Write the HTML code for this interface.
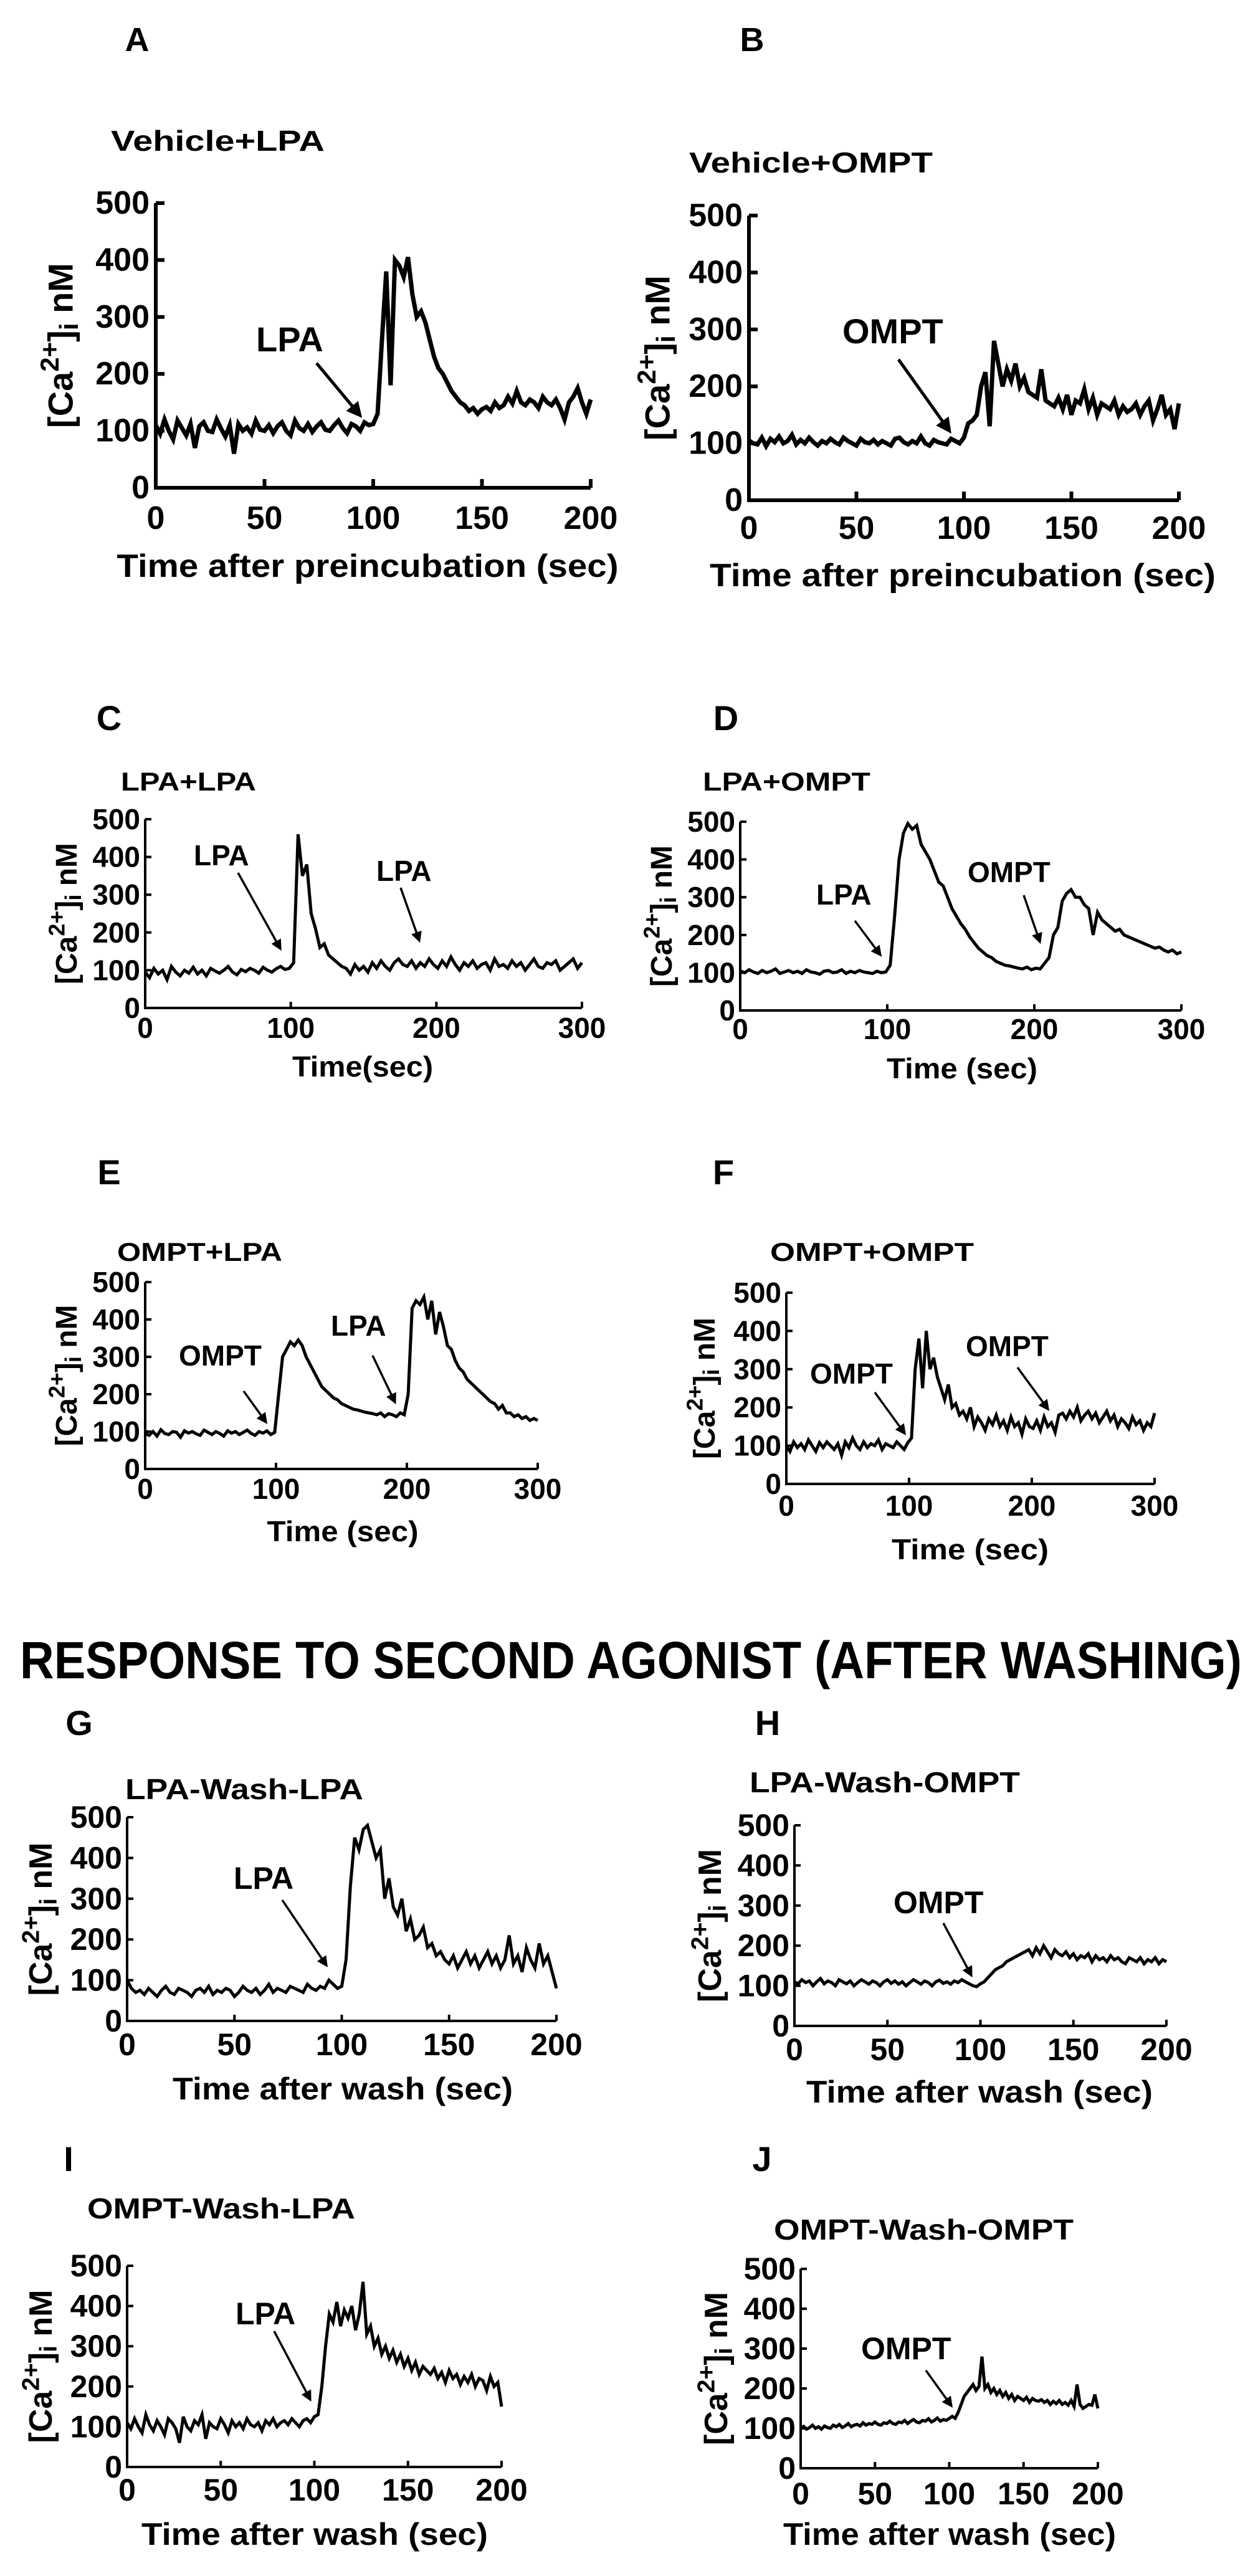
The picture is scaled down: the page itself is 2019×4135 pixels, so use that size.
<!DOCTYPE html>
<html><head><meta charset="utf-8"><style>
html,body{margin:0;padding:0;background:#fff;}
svg{display:block;}
text{font-family:"Liberation Sans",Arial,sans-serif;font-weight:bold;fill:#000;}
</style></head><body>
<svg id="fig" width="2019" height="4135" viewBox="0 0 2019 4135" xmlns="http://www.w3.org/2000/svg">
<defs><marker id="ah" viewBox="0 0 10 10" refX="8" refY="5" markerWidth="5.5" markerHeight="5" orient="auto"><path d="M0,0 L10,5 L0,10 z" fill="#000"/></marker></defs>
<text x="32" y="2694" font-size="84" textLength="1961" lengthAdjust="spacingAndGlyphs">RESPONSE TO SECOND AGONIST (AFTER WASHING)</text>
</svg>
<script>
// Panel data: values sampled every `step` seconds
const aVals=[110,95,120,100,85,118,105,92,112,70,108,115,100,98,120,104,90,110,60,112,100,106,95,118,102,100,110,96,108,115,100,92,118,105,100,112,98,108,115,102,100,110,118,105,96,112,108,100,115,110,112,
130,260,380,180,400,390,370,405,340,300,310,290,260,230,210,200,185,170,160,150,145,135,140,130,138,142,135,150,140,145,160,148,170,150,145,155,150,140,160,150,145,155,140,120,150,160,175,150,130,155];
const bVals=[105,100,98,110,95,108,102,112,100,104,115,98,106,100,110,102,96,104,100,108,102,98,110,104,100,96,108,102,100,106,98,104,100,96,108,110,102,98,104,100,112,100,96,106,102,100,98,108,104,100,110,
135,140,150,200,225,130,280,240,200,230,210,240,200,215,190,185,180,230,175,170,165,180,160,185,150,175,170,195,160,180,150,170,165,160,175,150,165,155,160,170,150,165,175,140,160,185,150,160,125,170];
const cVals=[95,80,105,90,100,75,110,95,85,100,92,108,90,100,85,105,98,92,100,110,95,88,102,96,105,100,92,108,100,95,104,110,102,105,
120,460,350,380,250,210,160,170,140,130,120,110,105,90,115,100,110,95,120,105,125,110,100,120,130,115,110,125,105,120,110,130,115,105,125,110,135,115,100,120,110,125,105,115,120,100,130,110,115,105,125,110,120,100,115,130,110,105,120,115,125,100,110,120,130,105,120];
const dVals=[105,100,108,102,98,106,100,104,110,98,102,106,100,104,98,108,102,100,96,104,106,100,102,108,98,104,100,106,102,100,98,104,100,102,
120,250,400,470,495,480,490,440,420,400,370,340,330,300,270,250,230,215,195,180,165,155,145,140,130,125,120,118,115,112,110,115,108,112,110,125,140,200,220,290,310,320,300,300,280,270,200,260,240,230,220,210,215,200,195,190,185,180,175,170,165,168,160,155,160,150,155];
const eVals=[95,90,100,88,105,95,92,100,98,85,102,96,100,94,90,104,98,92,100,95,88,102,96,100,92,98,104,95,90,100,96,102,92,98,
200,300,320,340,330,345,330,300,280,260,240,220,210,200,190,185,175,170,165,160,158,155,152,150,148,145,150,140,148,145,140,150,145,200,430,450,440,460,400,450,360,420,380,330,320,290,270,260,240,230,220,210,200,190,180,175,160,170,150,150,140,145,135,140,130,135,130];
const fVals=[100,85,110,95,105,90,115,100,85,108,95,110,100,90,105,75,110,95,120,100,90,110,95,105,100,115,90,105,100,95,110,100,90,108,
120,300,380,250,400,300,330,280,250,220,260,200,210,180,190,170,200,150,175,160,140,170,155,180,150,165,140,175,150,160,130,170,150,145,165,140,175,150,160,135,180,185,170,190,175,200,165,180,190,170,185,160,175,190,165,180,150,170,160,145,175,155,165,140,160,150,185];
const gVals=[100,80,70,75,65,80,70,60,75,85,70,65,80,75,70,60,75,80,70,85,65,75,70,80,75,60,70,85,75,70,80,65,75,90,70,80,75,70,85,80,75,70,90,80,75,85,80,100,90,80,85,
150,330,450,420,470,480,440,400,420,300,350,280,260,300,220,250,200,210,230,180,190,160,170,150,140,160,130,150,170,140,160,130,150,170,140,160,130,150,210,140,160,120,180,150,130,190,140,160,120,80];
const hVals=[110,105,115,108,112,100,110,118,105,112,108,100,115,110,105,112,100,108,115,110,104,112,108,100,110,115,106,112,104,110,100,108,115,110,104,112,108,100,110,114,106,110,104,112,108,115,110,105,100,98,105,
110,120,130,140,145,150,160,165,170,175,180,185,190,175,195,180,200,185,170,190,180,175,185,170,180,165,175,170,180,160,175,165,170,160,175,165,170,160,155,170,165,160,170,155,165,160,170,155,165,160];
const iVals=[110,95,120,100,85,130,105,90,115,100,80,120,110,95,60,125,100,90,115,105,130,70,110,100,95,120,105,85,115,100,110,95,120,105,100,110,90,115,105,120,100,110,115,105,120,110,100,115,120,110,125,
130,200,300,380,360,410,350,390,370,400,340,380,460,330,350,300,320,280,300,270,290,260,280,250,270,240,260,230,250,240,230,245,220,235,210,240,220,230,205,225,210,230,200,220,215,190,225,200,210,150];
const jVals=[100,105,98,102,108,100,104,98,106,102,100,108,104,110,102,106,112,104,108,110,106,114,108,112,110,116,110,108,114,112,118,112,110,116,114,120,112,118,122,116,114,120,118,124,116,120,126,118,122,120,125,
130,125,140,160,180,190,200,210,195,205,280,200,210,190,200,185,195,180,190,175,185,170,180,175,170,178,165,175,170,168,172,165,170,160,168,162,170,160,165,158,170,155,210,160,150,155,160,158,185,150];
const yTicks=[0,100,200,300,400,500];
const xTicks200=[0,50,100,150,200];
const xTicks300=[0,100,200,300];

const NS="http://www.w3.org/2000/svg";
const svg=document.getElementById('fig');
function mk(tag,attrs,parent){const e=document.createElementNS(NS,tag);for(const k in attrs)e.setAttribute(k,attrs[k]);(parent||svg).appendChild(e);return e;}

function panel(p){
  const g=mk('g',{});
  
  
  const sx=v=>p.x0+v/p.xmax*(p.x1-p.x0);
  const sy=v=>p.y0-v/500*(p.y0-p.y5);
  const L=mk('text',{x:p.lx,y:p.ly,'font-size':p.lf,'text-anchor':'middle'},g);L.textContent=p.id;
  
  
  const T=mk('text',{x:p.tx,y:p.ty,'font-size':p.tf,textLength:p.tw,lengthAdjust:'spacingAndGlyphs'},g);T.textContent=p.title;
  
  
  const ax=mk('path',{d:`M${p.x0},${p.y5} L${p.x0},${p.y0} L${p.x1},${p.y0}`,fill:'none',stroke:'#000','stroke-width':p.aw},g);
  
  
  yTicks.forEach(v=>{
    const t=mk('line',{x1:p.x0,x2:p.x0+p.tl,y1:sy(v),y2:sy(v),stroke:'#000','stroke-width':p.aw},g);
    
    
    const l=mk('text',{x:p.x0-p.aw-4,y:sy(v),'font-size':p.kf,'text-anchor':'end','dominant-baseline':'central'},g);l.textContent=v;
    
    
  });
  p.xt.forEach(v=>{
    const t=mk('line',{x1:sx(v),x2:sx(v),y1:p.y0,y2:p.y0-p.tl,stroke:'#000','stroke-width':p.aw},g);
    
    
    const l=mk('text',{x:sx(v),y:p.kb,'font-size':p.kf,'text-anchor':'middle'},g);l.textContent=v;
    
    
  });
  const xt=mk('text',{x:p.xtx,y:p.xty,'font-size':p.kf,'text-anchor':'middle',textLength:p.xtw,lengthAdjust:'spacingAndGlyphs'},g);xt.textContent=p.xlab;
  
  
  const yc=(p.y0+p.y5)/2;
  const yt=mk('text',{x:0,y:0,'font-size':p.yf,'text-anchor':'middle',transform:`translate(${p.ycx+p.yf*0.35},${yc}) rotate(-90)`},g);
  yt.innerHTML='[Ca<tspan dy="-'+(p.yf*0.4)+'" font-size="'+(p.yf*0.75)+'">2+</tspan><tspan dy="'+(p.yf*0.4)+'">]</tspan><tspan dy="'+(p.yf*0.15)+'" font-size="'+(p.yf*0.75)+'">i</tspan><tspan dy="-'+(p.yf*0.15)+'"> nM</tspan>';
  
  
  const d=p.vals.map((v,i)=>(i?'L':'M')+sx(Math.min(i*p.step,p.xmax)).toFixed(1)+','+sy(v).toFixed(1)).join(' ');
  const tr=mk('path',{d:d,fill:'none',stroke:'#000','stroke-width':p.lw,'stroke-linejoin':'miter'},g);
  
  
  p.ann.forEach(a=>{
    const at=mk('text',{x:a[1],y:a[2],'font-size':p.nf},g);at.textContent=a[0];
    
    
    const ar=mk('line',{x1:a[3],y1:a[4],x2:a[5],y2:a[6],stroke:'#000','stroke-width':p.arw,'marker-end':'url(#ah)'},g);
    
    
  });
}

const AB={lf:54,tf:46,kf:52,yf:56,nf:56,aw:6,tl:14,lw:7,arw:5,xmax:200,step:2,xt:xTicks200};
panel(Object.assign({},AB,{id:'A',vals:aVals,x0:250,x1:948,y0:783,y5:326,lx:220,ly:82,tx:178,ty:242,tw:343,title:'Vehicle+LPA',kb:849,xtx:590,xty:926,xtw:805,xlab:'Time after preincubation (sec)',ycx:97,
 ann:[['LPA',411,564,508,583,578,667]]}));
panel(Object.assign({},AB,{id:'B',vals:bVals,x0:1202,x1:1892,y0:803,y5:346,lx:1207,ly:82,tx:1106,ty:277,tw:391,title:'Vehicle+OMPT',kb:865,xtx:1545,xty:941,xtw:812,xlab:'Time after preincubation (sec)',ycx:1055,
 ann:[['OMPT',1352,551,1442,577,1524,692]]}));

const CF={lf:56,tf:42,kf:46,yf:48,nf:46,aw:4,tl:10,lw:5,arw:3.5,xmax:300,step:3,xt:xTicks300};
panel(Object.assign({},CF,{id:'C',vals:cVals,x0:233,x1:934,y0:1618,y5:1315,lx:175,ly:1172,tx:194,ty:1269,tw:217,title:'LPA+LPA',kb:1666,xtx:582,xty:1728,xtw:226,xlab:'Time(sec)',ycx:106,
 ann:[['LPA',311,1389,382,1401,450,1523],['LPA',604,1414,643,1425,673,1510]]}));
panel(Object.assign({},CF,{id:'D',vals:dVals,x0:1188,x1:1896,y0:1622,y5:1319,lx:1165,ly:1172,tx:1128,ty:1269,tw:269,title:'LPA+OMPT',kb:1668,xtx:1544,xty:1731,xtw:242,xlab:'Time (sec)',ycx:1061,
 ann:[['LPA',1310,1452,1372,1478,1413,1533],['OMPT',1553,1416,1643,1437,1669,1512]]}));
panel(Object.assign({},CF,{id:'E',vals:eVals,x0:233,x1:863,y0:2358,y5:2058,lx:175,ly:1901,tx:188,ty:2024,tw:265,title:'OMPT+LPA',kb:2406,xtx:550,xty:2474,xtw:243,xlab:'Time (sec)',ycx:106,
 ann:[['OMPT',287,2192,391,2233,427,2283],['LPA',531,2144,598,2176,634,2251]]}));
panel(Object.assign({},CF,{id:'F',vals:fVals,x0:1262,x1:1853,y0:2382,y5:2075,lx:1161,ly:1901,tx:1236,ty:2024,tw:327,title:'OMPT+OMPT',kb:2433,xtx:1557,xty:2503,xtw:252,xlab:'Time (sec)',ycx:1130,
 ann:[['OMPT',1300,2221,1404,2235,1452,2301],['OMPT',1550,2177,1633,2195,1682,2262]]}));

const GJ={lf:56,tf:46,kf:50,yf:52,nf:50,aw:4,tl:10,lw:5,arw:3.5,xmax:200,step:2,xt:xTicks200};
panel(Object.assign({},GJ,{id:'G',vals:gVals,x0:204,x1:893,y0:3244,y5:2917,lx:127,ly:2785,tx:201,ty:2888,tw:382,title:'LPA-Wash-LPA',kb:3299,xtx:550,xty:3370,xtw:546,xlab:'Time after wash (sec)',ycx:65,
 ann:[['LPA',375,3032,453,3050,524,3155]]}));
panel(Object.assign({},GJ,{id:'H',vals:hVals,x0:1275,x1:1872,y0:3252,y5:2930,lx:1232,ly:2785,tx:1203,ty:2877,tw:434,title:'LPA-Wash-OMPT',kb:3307,xtx:1572,xty:3375,xtw:556,xlab:'Time after wash  (sec)',ycx:1139,
 ann:[['OMPT',1434,3071,1514,3087,1559,3171]]}));
panel(Object.assign({},GJ,{id:'I',vals:iVals,x0:204,x1:805,y0:3960,y5:3637,lx:110,ly:3485,tx:140,ty:3561,tw:430,title:'OMPT-Wash-LPA',kb:4014,xtx:505,xty:4085,xtw:556,xlab:'Time after wash  (sec)',ycx:65,
 ann:[['LPA',378,3731,440,3742,498,3852]]}));
panel(Object.assign({},GJ,{id:'J',vals:jVals,x0:1285,x1:1762,y0:3962,y5:3642,lx:1223,ly:3485,tx:1242,ty:3595,tw:481,title:'OMPT-Wash-OMPT',kb:4020,xtx:1524,xty:4085,xtw:534,xlab:'Time after wash (sec)',ycx:1149,
 ann:[['OMPT',1382,3787,1486,3805,1527,3862]]}));
</script>
</body></html>
